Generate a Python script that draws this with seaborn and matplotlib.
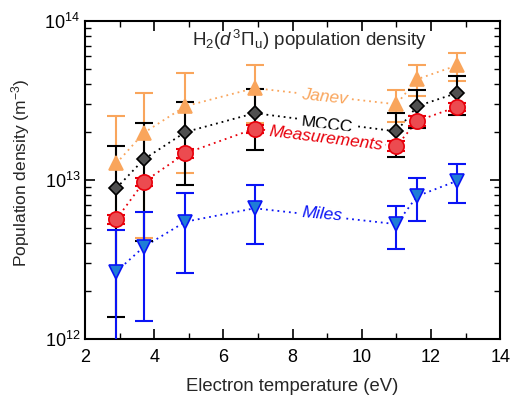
import numpy as np
import pandas as pd
import matplotlib
matplotlib.use("Agg")
import matplotlib.pyplot as plt
import seaborn as sns

# Electron temperatures (eV)
te = [2.9, 3.7, 4.9, 6.9, 11.0, 11.6, 12.75]

# Population densities (m^-3) and error bars
janev = [1.27e13, 1.98e13, 2.91e13, 3.78e13, 2.99e13, 4.30e13, 5.25e13]
janev_err = [1.25e13, 1.55e13, 1.80e13, 1.50e13, 0.67e13, 0.95e13, 1.05e13]

mccc = [8.87e12, 1.35e13, 2.00e13, 2.63e13, 2.02e13, 2.91e13, 3.52e13]
mccc_err = [7.5e12, 0.94e13, 1.07e13, 1.08e13, 0.62e13, 0.78e13, 0.97e13]

meas = [5.65e12, 9.73e12, 1.47e13, 2.10e13, 1.63e13, 2.35e13, 2.88e13]
meas_err = [0.35e12, 0.6e12, 1.0e12, 1.3e12, 1.2e12, 1.6e12, 1.8e12]

miles = [2.65e12, 3.80e12, 5.46e12, 6.63e12, 5.27e12, 7.91e12, 9.86e12]
miles_err = [2.2e12, 2.5e12, 2.85e12, 2.7e12, 1.6e12, 2.4e12, 2.7e12]

sns.set_style("ticks")
plt.rcParams["font.family"] = ["Liberation Sans", "DejaVu Sans"]
plt.rcParams["mathtext.fontset"] = "custom"
plt.rcParams["mathtext.rm"] = "Liberation Sans"
plt.rcParams["mathtext.it"] = "Liberation Sans:italic"
plt.rcParams["mathtext.sf"] = "Liberation Sans"

fig = plt.figure(figsize=(5.13, 3.95), dpi=100)
ax = fig.add_axes([0.166, 0.142, 0.809, 0.805])

ORANGE = "#F9A55C"
BLACK = "#000000"
GREY = "#505050"
RED = "#E8000B"
RED_FACE = "#EC4B50"
BLUE = "#0A14F5"
BLUE_FACE = "#1F7DD6"

series = [
    ("Janev", janev, janev_err, ORANGE, ORANGE, ORANGE, "^", 10),
    ("MCCC", mccc, mccc_err, BLACK, GREY, BLACK, "D", 7.5),
    ("Measurements", meas, meas_err, RED, RED_FACE, RED, "o", 11),
    ("Miles", miles, miles_err, BLUE, BLUE_FACE, BLUE, "v", 10),
]

for i, (name, vals, errs, ecol, face, edge, mk, ms) in enumerate(series):
    df = pd.DataFrame({"Te": te, "n": vals})
    sns.lineplot(data=df, x="Te", y="n", ax=ax, color=ecol, lw=1.3,
                 linestyle=(0, (1, 2.2)), zorder=2)
    ax.errorbar(te, vals, yerr=errs, fmt="none", ecolor=ecol, elinewidth=1.5,
                capsize=6.5, capthick=1.5, zorder=3 + i)
    ax.plot(te, vals, linestyle="none", marker=mk, markersize=ms,
            markerfacecolor=face, markeredgecolor=edge, markeredgewidth=1.2,
            zorder=8 + i)

label_style = dict(ha="center", va="center", fontsize=12.5, zorder=7,
                   bbox=dict(facecolor="white", edgecolor="none", pad=1.5))
ax.text(8.92, 3.31e13, "Janev", color=ORANGE, style="italic", rotation=-6, **label_style)
ax.text(9.0, 2.21e13, "MCCC", color=BLACK, rotation=-6, **label_style)
ax.text(8.97, 1.83e13, "Measurements", color=RED, style="italic", rotation=-7, **label_style)
ax.text(8.84, 6.1e12, "Miles", color=BLUE, style="italic", rotation=-5, **label_style)

ax.text(0.54, 0.94, r"H$_2$($d\,^3\Pi_\mathrm{u}$) population density",
        transform=ax.transAxes, ha="center", va="center", fontsize=13.5)

ax.set_yscale("log")
ax.set_xlim(2, 14)
ax.set_ylim(1e12, 1e14)
ax.set_xticks([2, 4, 6, 8, 10, 12, 14])
ax.set_xticks(np.arange(3, 14, 2), minor=True)
ax.set_xlabel("Electron temperature (eV)", fontsize=13.3, labelpad=9)
ax.set_ylabel(r"Population density (m$^{-3}$)", fontsize=12.5)
ax.yaxis.set_label_coords(-0.128, 0.522)

for s in ax.spines.values():
    s.set_visible(True)
    s.set_linewidth(1.5)
    s.set_color("black")
ax.tick_params(which="both", direction="in", top=True, right=True,
               colors="black", labelsize=13)
ax.tick_params(which="major", length=7, width=1.2)
ax.tick_params(which="minor", length=4, width=1.0)
ax.tick_params(axis="x", pad=7)

fig.savefig("out.png", dpi=100)
